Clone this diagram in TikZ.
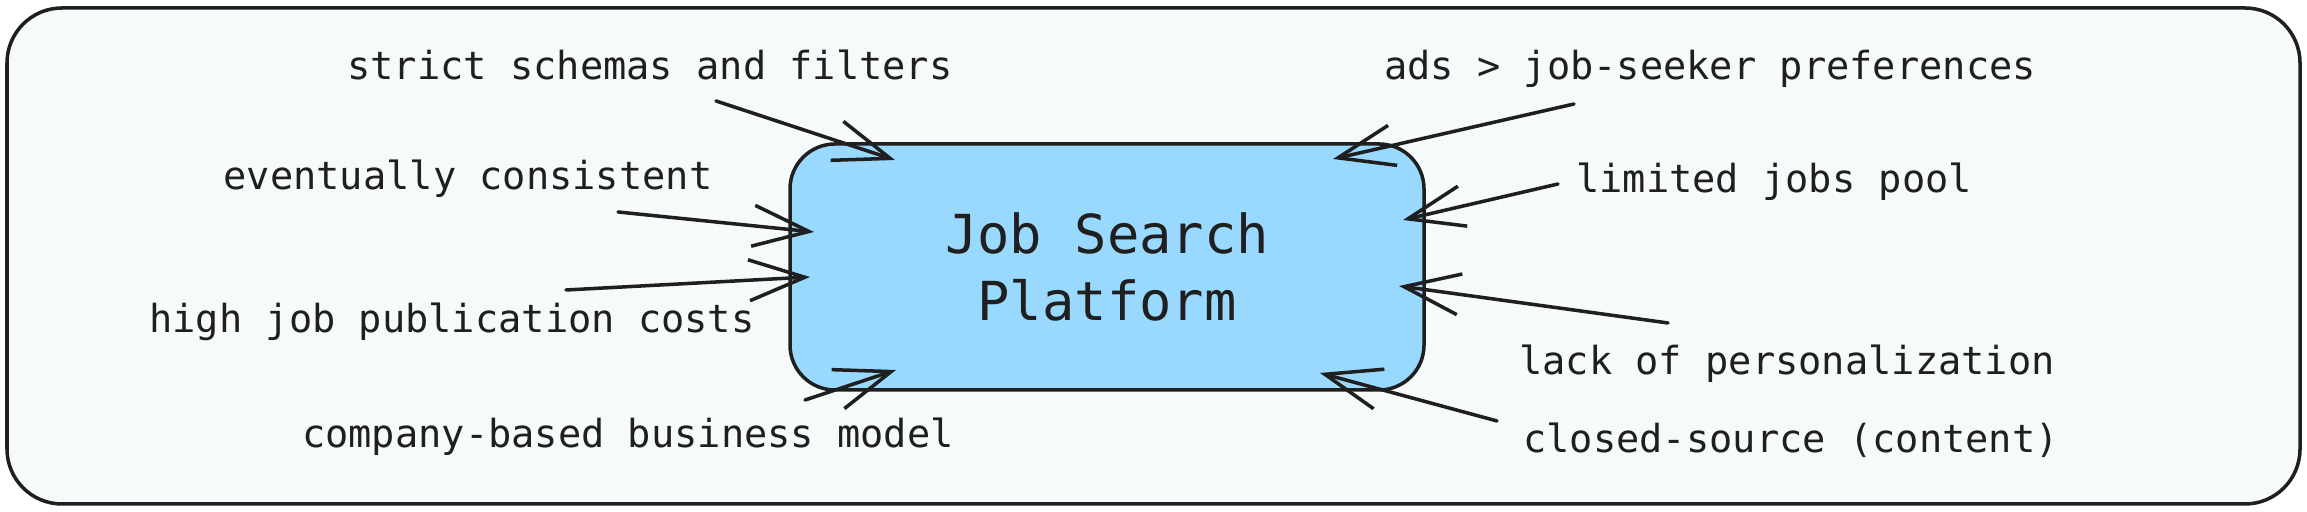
\documentclass[tikz,border=0pt]{standalone}
\usepackage{fontspec}
\setmonofont{DejaVu Sans Mono}
\usetikzlibrary{arrows.meta}
\definecolor{jsframe}{rgb}{0.97,0.98,0.98}
\definecolor{jsline}{rgb}{0.12,0.12,0.12}
\definecolor{jsplatform}{rgb}{0.60,0.85,1.00}
\tikzstyle{jsframe}=[rectangle, draw=jsline, line width=1pt, fill=jsframe, rounded corners=0.55cm, minimum width=22.93cm, minimum height=4.96cm]
\tikzstyle{jsplatform}=[rectangle, draw=jsline, line width=1pt, fill=jsplatform, rounded corners=0.45cm, minimum width=6.34cm, minimum height=2.46cm, align=center, text=jsline, font=\ttfamily\fontsize{15.3}{19}\selectfont]
\tikzstyle{jsproblem}=[anchor=base, inner sep=0pt, text=jsline, font=\ttfamily\fontsize{11}{13}\selectfont]
\tikzstyle{jsarrow}=[draw=jsline, line width=1pt, line cap=round, -{Straight Barb[length=0.56cm,width=0.41cm]}]
\newcommand{\jsproblem}[3]{
	\node[jsproblem] (#1) at (#2) {#3};}
\newcommand{\jsarrow}[3]{
	\coordinate (#1-from) at (#2);
	\coordinate (#1-to) at (#3);
	\path (#1-from) edge[jsarrow] (#1-to);}

\begin{document}
\begin{tikzpicture}
	\useasboundingbox (0,0) rectangle (23.07,5.12);
	\node[jsframe] (frame) at (11.535,2.56) {};
	\node[jsplatform] (platform) at (11.07,2.45) {Job Search\\Platform};
	
	\jsproblem{schemas}{6.50,4.32}{strict schemas and filters}
	\jsproblem{consistent}{4.68,3.22}{eventually consistent}
	\jsproblem{costs}{4.52,1.79}{high job publication costs}
	\jsproblem{business}{6.28,0.64}{company-based business model}
	\jsproblem{ads}{17.10,4.32}{ads > job-seeker preferences}
	\jsproblem{pool}{17.74,3.19}{limited jobs pool}
	\jsproblem{personal}{17.87,1.37}{lack of personalization}
	\jsproblem{closed}{17.91,0.59}{closed-source (content)}
	
	\jsarrow{schemas}{7.16,4.11}{8.95,3.52}
	\jsarrow{consistent}{6.18,3.00}{8.14,2.80}
	\jsarrow{costs}{5.66,2.22}{8.10,2.35}
	\jsarrow{business}{8.05,1.12}{8.96,1.42}
	\jsarrow{ads}{15.74,4.08}{13.33,3.53}
	\jsarrow{pool}{15.58,3.28}{14.03,2.92}
	\jsarrow{personal}{16.68,1.89}{13.99,2.26}
	\jsarrow{closed}{14.97,0.91}{13.20,1.39}
\end{tikzpicture}
\end{document}
